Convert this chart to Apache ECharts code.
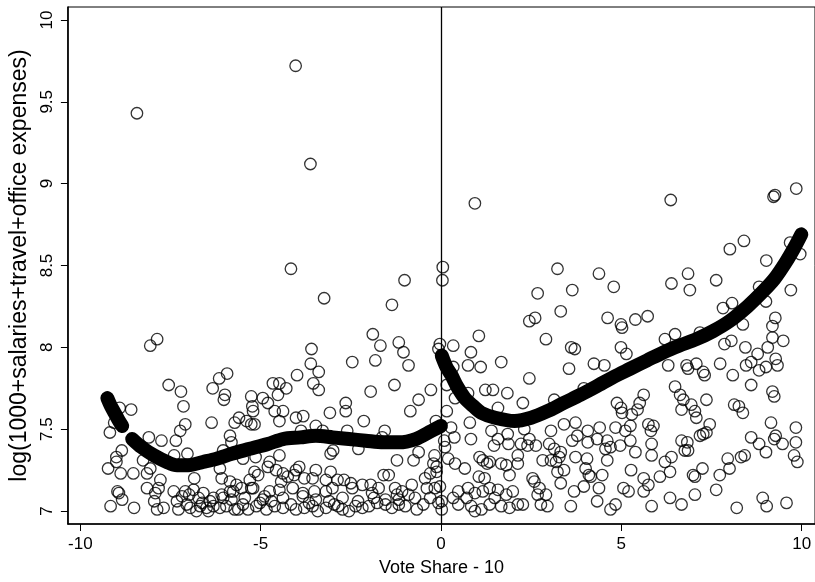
<!DOCTYPE html>
<html>
<head>
<meta charset="utf-8">
<script src="https://cdn.jsdelivr.net/npm/echarts@6/dist/echarts.min.js"></script>
<style>html,body{margin:0;padding:0;background:#fff}#c{width:815px;height:582px}</style>
</head>
<body>
<div id="c"></div>
<script>
// ---- data ----
var xTicks = [-10, -5, 0, 5, 10];
var yTicks = [7, 7.5, 8, 8.5, 9, 9.5, 10];
var xTitle = 'Vote Share - 10';
var yTitle = 'log(1000+salaries+travel+office expenses)';

// observations: [vote share - 10, log spending]
var scatterPoints = [
  [-4.03,9.72],[-8.43,9.43],[-3.62,9.12],[0.94,8.88],[6.37,8.90],[9.22,8.92],[9.26,8.93],[9.85,8.97],
  [8.40,8.65],[8.01,8.60],[9.68,8.64],[9.96,8.57],[9.02,8.53],
  [-8.06,8.01],[-7.87,8.05],[-7.55,7.77],[-7.21,7.73],[-7.14,7.64],[-6.33,7.75],
  [-8.59,7.62],[-8.91,7.63],[-9.06,7.54],[-9.18,7.48],[-7.09,7.53],[-7.23,7.49],[-8.10,7.45],[-7.75,7.43],[-7.35,7.43],[-6.36,7.54],
  [-8.85,7.37],[-9.0,7.33],[-9.0,7.30],[-9.23,7.26],[-8.88,7.23],[-8.53,7.23],[-8.26,7.31],[-8.06,7.26],[-8.15,7.23],
  [-7.40,7.34],[-7.03,7.35],[-6.84,7.20],[-7.78,7.19],[-8.15,7.14],[-8.97,7.12],[-8.93,7.11],[-8.84,7.07],[-9.16,7.03],[-8.51,7.02],
  [-7.92,7.11],[-7.95,7.06],[-7.87,7.01],[-7.69,7.02],[-7.83,7.14],
  [-7.41,7.12],[-7.32,7.06],[-7.28,7.01],[-7.05,7.04],[-7.09,7.12],[-6.86,7.13],[-6.68,7.03],[-6.50,7.02],[-6.31,7.03],[-6.59,7.11],[-6.31,7.08],
  [-6.95,7.02],[-6.78,7.00],[-6.62,7.05],[-6.45,7.00],[-6.40,7.06],[-6.72,7.08],[-7.18,7.09],[-6.98,7.10],
  [-4.16,8.48],[-3.24,8.30],[-3.59,7.99],[-3.61,7.90],[-3.39,7.85],[-3.54,7.78],[-3.39,7.74],[-2.46,7.91],[-3.99,7.83],
  [-5.93,7.84],[-6.15,7.81],[-5.99,7.71],[-6.02,7.68],[-4.66,7.78],[-4.48,7.78],[-4.29,7.75],[-4.52,7.71],
  [-5.26,7.70],[-4.94,7.69],[-4.80,7.66],[-5.23,7.64],[-5.21,7.61],[-4.61,7.61],[-4.38,7.61],
  [-5.60,7.57],[-5.72,7.54],[-5.39,7.55],[-5.26,7.53],[-5.17,7.53],[-5.85,7.46],[-5.81,7.42],[-4.48,7.55],
  [-4.02,7.57],[-3.82,7.58],[-3.08,7.60],[-2.64,7.66],[-2.64,7.61],[-3.47,7.52],[-3.28,7.49],[-3.88,7.49],[-2.60,7.49],[-2.14,7.55],
  [-3.06,7.35],[-2.99,7.37],[-2.29,7.38],[-6.04,7.37],[-5.49,7.32],[-5.14,7.33],[-4.48,7.34],[-4.75,7.30],[-4.80,7.27],
  [-6.13,7.26],[-6.08,7.20],[-5.85,7.18],[-5.67,7.16],[-5.17,7.24],[-5.07,7.22],[-5.30,7.19],[-5.26,7.14],
  [-4.57,7.25],[-4.38,7.23],[-4.43,7.18],[-4.25,7.21],[-4.02,7.25],[-3.93,7.27],[-4.07,7.22],
  [-3.79,7.20],[-3.56,7.20],[-3.47,7.25],[-3.19,7.19],[-3.06,7.24],[-2.87,7.19],[-2.69,7.19],[-2.50,7.17],[-2.46,7.14],[-2.18,7.16],
  [-3.01,7.14],[-3.19,7.12],[-3.51,7.12],[-3.83,7.11],[-4.11,7.14],[-4.48,7.13],[-4.75,7.12],[-4.89,7.09],[-5.21,7.14],[-5.53,7.14],[-5.76,7.12],[-5.85,7.12],[-6.08,7.10],
  [-6.13,7.02],[-5.95,7.03],[-5.72,7.01],[-5.49,7.04],[-5.35,7.01],[-5.12,7.03],[-4.84,7.01],[-4.61,7.03],[-4.38,7.02],[-4.16,7.04],
  [-4.02,7.01],[-3.79,7.02],[-3.56,7.03],[-3.42,7.00],[-3.19,7.02],[-2.96,7.04],[-2.73,7.01],[-2.55,7.00],[-2.37,7.03],[-2.18,7.02],
  [-6.04,7.08],[-5.81,7.07],[-5.44,7.08],[-4.94,7.07],[-4.38,7.08],[-3.83,7.09],[-3.47,7.07],[-2.73,7.08],
  [-5.62,7.01],[-5.02,7.05],[-4.70,7.06],[-3.66,7.05],[-3.10,7.06],[-2.85,7.03],[-2.30,7.06],
  [0.05,8.49],[0.04,8.41],[-1.01,8.41],[-1.36,8.26],[-1.89,8.08],[-1.68,8.01],[-1.82,7.92],[-1.17,8.03],[-1.04,7.97],[-0.90,7.89],
  [-0.03,8.02],[-0.07,7.99],[0.34,8.01],[1.05,8.07],[0.83,7.97],[0.75,7.89],[1.10,7.88],[1.67,7.91],[0.34,7.88],
  [-1.95,7.73],[-1.29,7.77],[-0.28,7.74],[-0.62,7.68],[-0.85,7.61],[-1.56,7.49],[-1.63,7.45],[-0.14,7.55],
  [0.16,7.77],[0.39,7.69],[0.75,7.72],[1.23,7.74],[1.44,7.74],[1.84,7.72],[1.58,7.63],[0.16,7.61],
  [0.28,7.51],[0.37,7.45],[0.80,7.54],[0.83,7.44],[1.40,7.49],[1.58,7.44],[1.47,7.40],[1.85,7.47],[1.87,7.41],[0.09,7.43],[0.11,7.39],
  [-1.22,7.31],[-0.76,7.31],[-0.62,7.36],[-0.18,7.34],[-0.21,7.29],[-0.12,7.27],[0.20,7.32],[0.39,7.29],[0.66,7.26],
  [1.07,7.33],[1.16,7.31],[1.28,7.29],[1.35,7.30],[1.67,7.29],[1.81,7.28],[1.90,7.22],[1.05,7.21],[1.21,7.20],
  [-1.59,7.22],[-1.45,7.22],[-1.95,7.16],[-1.73,7.14],[-1.91,7.11],[-1.27,7.14],[-1.22,7.10],[-1.08,7.12],[-0.81,7.16],[-0.90,7.10],
  [-0.44,7.20],[-0.30,7.23],[-0.12,7.24],[-0.39,7.14],[-0.17,7.14],[-0.03,7.15],
  [0.48,7.12],[0.75,7.14],[0.94,7.11],[1.16,7.12],[1.35,7.14],[1.58,7.13],[1.81,7.10],[1.99,7.12],
  [-2.0,7.03],[-1.77,7.05],[-1.54,7.04],[-1.36,7.02],[-1.17,7.04],[-0.99,7.03],[-0.67,7.01],[-0.49,7.04],[-0.07,7.05],[0.02,7.01],
  [0.48,7.04],[0.84,7.03],[0.94,7.00],[1.12,7.01],[1.35,7.04],[1.67,7.03],[1.90,7.02],
  [-1.86,7.08],[-1.54,7.07],[-1.17,7.07],[-0.72,7.08],[-0.30,7.08],[0.02,7.06],[0.34,7.08],[0.71,7.08],[1.49,7.08],
  [3.23,8.48],[4.38,8.45],[4.79,8.37],[2.68,8.33],[3.64,8.35],[3.32,8.22],[2.45,8.16],[2.61,8.18],[4.62,8.18],
  [4.99,8.14],[5.02,8.12],[5.39,8.17],[5.73,8.19],[2.91,8.05],[3.61,8.00],[3.71,7.99],[4.99,8.00],[5.14,7.96],
  [3.55,7.87],[4.24,7.90],[4.53,7.89],[2.45,7.81],[2.27,7.66],[3.14,7.68],[3.96,7.75],
  [5.62,7.71],[5.51,7.66],[5.45,7.62],[5.29,7.59],[4.88,7.66],[4.99,7.63],[5.02,7.60],
  [3.41,7.53],[3.73,7.54],[3.05,7.49],[2.31,7.50],[4.40,7.51],[4.07,7.49],[4.84,7.51],[5.11,7.49],[5.25,7.52],[5.75,7.53],[5.89,7.52],[5.82,7.49],
  [2.45,7.44],[2.22,7.41],[2.40,7.40],[2.63,7.40],[3.00,7.41],[3.14,7.38],[3.32,7.36],[3.28,7.33],
  [3.64,7.43],[3.78,7.46],[4.07,7.42],[4.33,7.44],[4.61,7.43],[4.70,7.39],[4.56,7.38],[4.97,7.40],[5.25,7.43],[5.39,7.36],[5.84,7.41],[5.84,7.34],
  [2.13,7.34],[2.13,7.29],[2.82,7.31],[3.05,7.31],[3.19,7.30],[3.73,7.33],[4.05,7.32],[4.61,7.31],
  [3.23,7.24],[3.41,7.25],[3.32,7.17],[4.01,7.26],[4.10,7.22],[4.15,7.21],[4.47,7.22],[5.27,7.25],[5.62,7.20],[5.75,7.16],[6.07,7.21],
  [2.54,7.20],[2.59,7.18],[2.73,7.14],[2.68,7.10],[2.91,7.10],[2.77,7.04],[2.95,7.03],[3.69,7.12],[3.96,7.15],[4.38,7.14],[5.06,7.14],[5.20,7.12],[5.62,7.12],
  [2.13,7.04],[2.27,7.04],[3.60,7.03],[4.33,7.06],[4.70,7.01],[4.84,7.04],[5.84,7.03],
  [6.85,8.45],[7.63,8.41],[6.39,8.39],[6.90,8.35],[8.82,8.37],[9.70,8.35],[7.82,8.24],[8.07,8.27],[9.01,8.28],[8.37,8.14],
  [6.49,8.08],[6.21,8.05],[7.18,8.09],[9.27,8.18],[9.19,8.13],[9.19,8.06],[9.49,8.04],[7.86,8.02],[8.05,8.04],[8.44,8.00],
  [9.06,8.00],[8.78,7.96],[9.28,7.93],[9.33,7.89],[8.46,7.89],[8.60,7.91],[8.82,7.86],[9.01,7.88],
  [6.30,7.89],[6.81,7.89],[6.85,7.87],[7.08,7.90],[7.27,7.85],[7.31,7.83],[7.74,7.90],[8.09,7.83],
  [6.49,7.76],[6.63,7.71],[6.72,7.68],[6.67,7.62],[6.94,7.65],[7.04,7.61],[7.08,7.57],[7.36,7.68],[8.60,7.77],
  [9.19,7.73],[9.24,7.70],[8.13,7.65],[8.26,7.64],[8.37,7.60],[7.45,7.53],[7.18,7.46],[7.27,7.47],[7.36,7.48],
  [9.15,7.54],[9.28,7.46],[9.24,7.44],[9.47,7.41],[9.84,7.51],[9.84,7.42],[9.79,7.34],[9.88,7.30],
  [6.67,7.43],[6.83,7.42],[6.76,7.37],[6.85,7.37],[6.39,7.33],[6.21,7.30],[6.35,7.24],
  [8.60,7.45],[8.82,7.41],[9.01,7.36],[8.42,7.34],[8.32,7.33],[7.95,7.32],[8.00,7.26],[7.73,7.22],[7.25,7.26],[7.04,7.21],[6.99,7.22],
  [6.35,7.08],[6.67,7.04],[7.04,7.10],[7.63,7.13],[8.20,7.02],[8.92,7.08],[9.03,7.03],[9.58,7.05]
];

// fitted values, left of threshold (two runs separated by a gap)
var fitLeftA = [[-9.25,7.69],[-9.15,7.64],[-9.05,7.60],[-8.95,7.56],[-8.84,7.52]];
var fitLeftB = [[-8.56,7.44],[-8.3,7.39],[-7.96,7.34],[-7.6,7.30],[-7.32,7.28],[-7.0,7.28],[-6.6,7.30],
  [-6.22,7.32],[-5.8,7.35],[-5.3,7.38],[-4.8,7.41],[-4.38,7.44],[-3.9,7.45],[-3.47,7.46],[-3.0,7.45],
  [-2.55,7.44],[-2.09,7.43],[-1.6,7.42],[-1.17,7.42],[-0.7,7.44],[-0.26,7.49],[0.0,7.52]];
// fitted values, right of threshold
var fitRight = [[0.02,7.95],[0.15,7.88],[0.29,7.83],[0.45,7.76],[0.66,7.69],[0.9,7.64],[1.12,7.60],[1.5,7.57],
  [2.04,7.55],[2.5,7.57],[2.95,7.61],[3.4,7.66],[3.87,7.71],[4.3,7.76],[4.79,7.82],[5.25,7.87],[5.71,7.92],
  [6.17,7.97],[6.6,8.01],[7.08,8.05],[7.55,8.10],[8.0,8.16],[8.5,8.25],[8.92,8.34],[9.25,8.42],[9.56,8.52],
  [9.8,8.61],[9.99,8.69]];

var threshold = 0;

// ---- chart ----
var chart = echarts.init(document.getElementById('c'), null, {renderer: 'canvas'});
var FONT = "'Liberation Sans', Arial, Helvetica, sans-serif";

function fitSeries(d) {
  return {
    type: 'line', data: d, showSymbol: false, smooth: 0.3, silent: true, z: 3,
    lineStyle: {color: '#000', width: 14, cap: 'round', join: 'round'}
  };
}

chart.setOption({
  animation: false,
  backgroundColor: '#fff',
  grid: {left: 67, right: -3, top: 7, bottom: 56, show: true, borderColor: '#000', borderWidth: 1, backgroundColor: 'transparent'},
  xAxis: {
    type: 'value', min: -10.344, max: 10.37,
    name: xTitle, nameLocation: 'middle', nameGap: 35,
    nameTextStyle: {color: '#000', fontFamily: FONT, fontSize: 18},
    splitLine: {show: false},
    axisLine: {show: true, onZero: false, lineStyle: {color: '#000', width: 1.6}},
    axisTick: {show: true, length: 7, customValues: xTicks, lineStyle: {color: '#000', width: 1}},
    axisLabel: {customValues: xTicks, color: '#000', fontFamily: FONT, fontSize: 17, margin: 12}
  },
  yAxis: {
    type: 'value', min: 6.921, max: 10.079,
    name: yTitle, nameLocation: 'middle', nameGap: 36, nameRotate: 90,
    nameTextStyle: {color: '#000', fontFamily: FONT, fontSize: 23},
    splitLine: {show: false},
    axisLine: {show: true, onZero: false, lineStyle: {color: '#000', width: 1.6}},
    axisTick: {show: true, length: 7, customValues: yTicks, lineStyle: {color: '#000', width: 1}},
    axisLabel: {customValues: yTicks, color: '#000', fontFamily: FONT, fontSize: 17, rotate: 90, margin: 12}
  },
  series: [
    {
      type: 'scatter', data: scatterPoints, symbol: 'circle', symbolSize: 11.5, z: 2,
      itemStyle: {color: 'rgba(255,255,255,0)', borderColor: '#000', borderWidth: 1.3},
      markLine: {
        silent: true, symbol: ['none', 'none'], label: {show: false},
        lineStyle: {color: '#000', width: 1.3, type: 'solid'},
        data: [{xAxis: threshold}]
      }
    },
    fitSeries(fitLeftA),
    fitSeries(fitLeftB),
    fitSeries(fitRight)
  ]
});
</script>
</body>
</html>
